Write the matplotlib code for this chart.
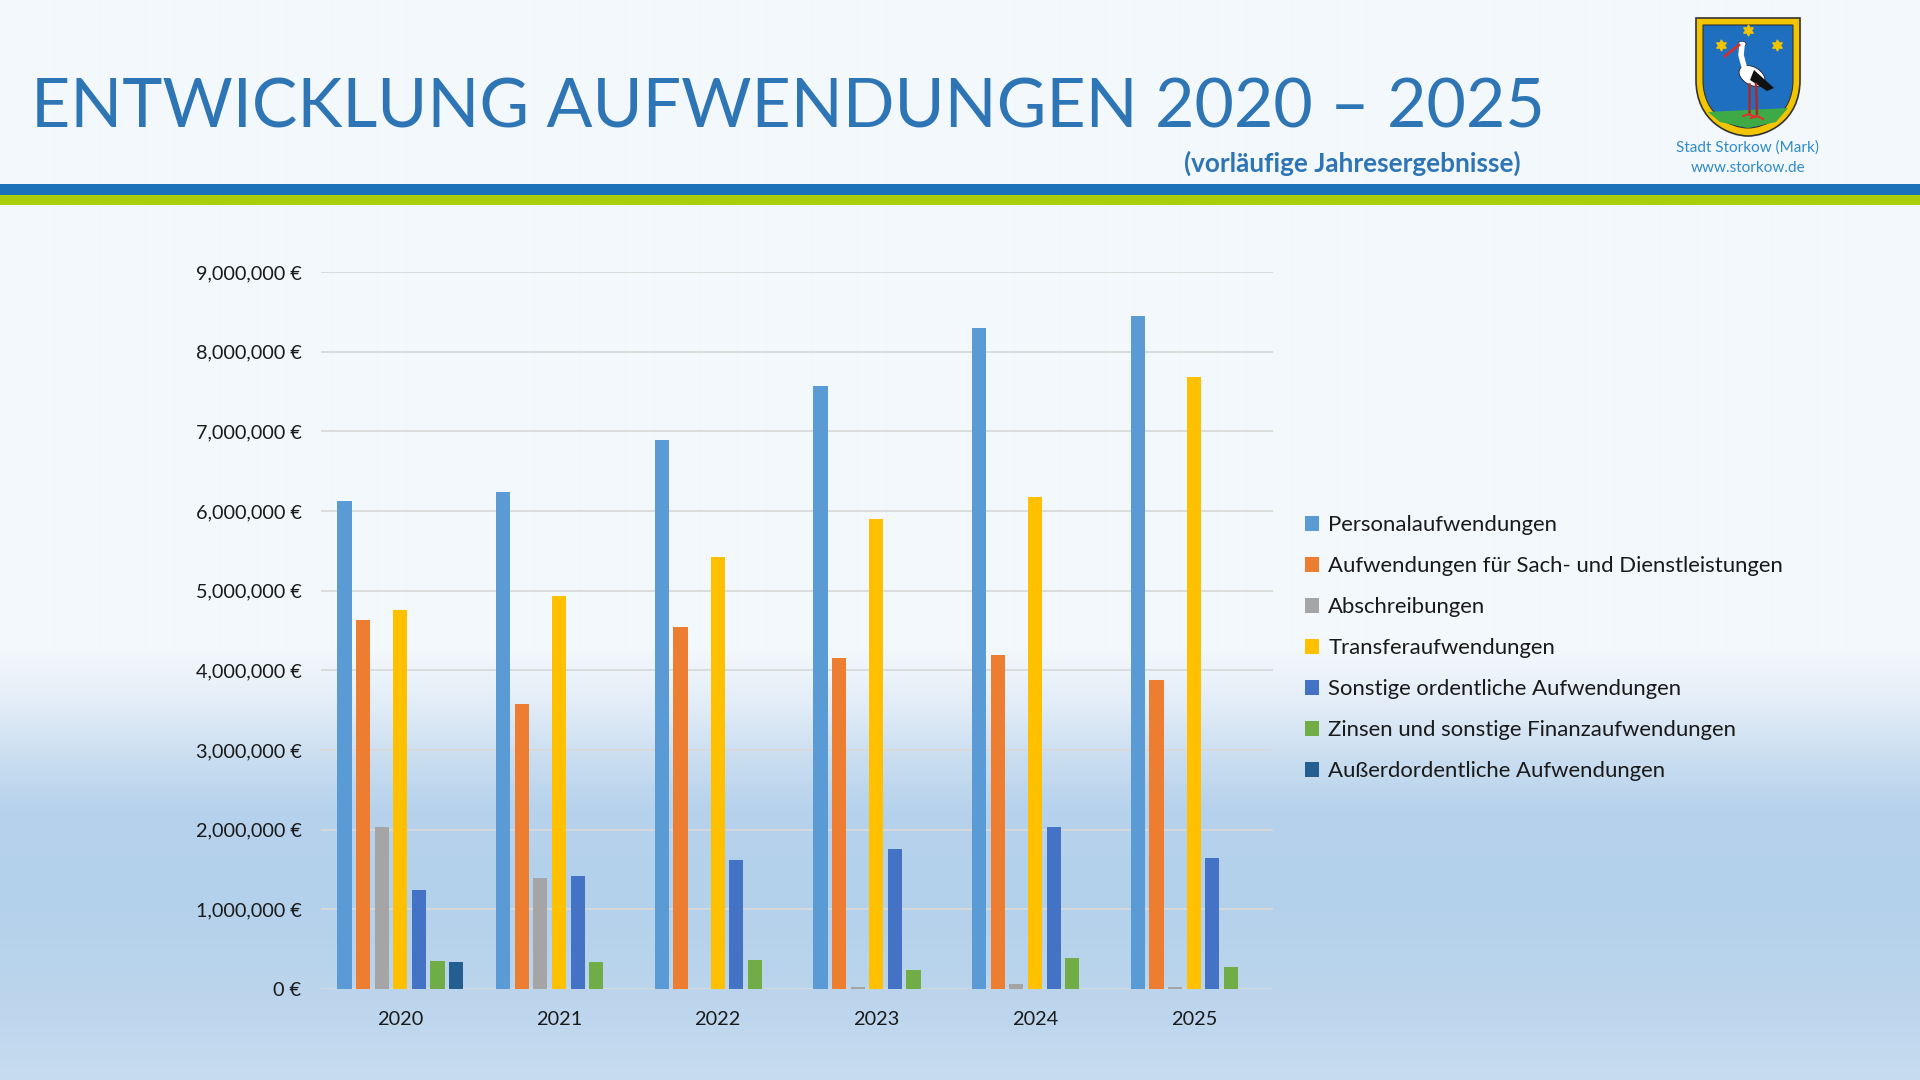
import numpy as np
import matplotlib
matplotlib.use("Agg")
import matplotlib.pyplot as plt
from matplotlib.colors import to_rgb
from matplotlib.patches import Rectangle, PathPatch, Ellipse, Polygon
from matplotlib.path import Path
from matplotlib.ticker import FuncFormatter, MultipleLocator

# ---------------- data ----------------
years = ["2020", "2021", "2022", "2023", "2024", "2025"]
series_names = [
    "Personalaufwendungen",
    "Aufwendungen für Sach- und Dienstleistungen",
    "Abschreibungen",
    "Transferaufwendungen",
    "Sonstige ordentliche Aufwendungen",
    "Zinsen und sonstige Finanzaufwendungen",
    "Außerdordentliche Aufwendungen",
]
personal   = [6125000, 6241000, 6885000, 7566000, 8295000, 8447000]
sach       = [4637000, 3573000, 4539000, 4150000, 4193000, 3877000]
abschr     = [2030000, 1392000, 0, 30000, 67000, 30000]
transfer   = [4752000, 4934000, 5420000, 5894000, 6174000, 7681000]
sonstige   = [1240000, 1422000, 1622000, 1756000, 2030000, 1641000]
zinsen     = [346000, 340000, 365000, 243000, 389000, 280000]
ausserord  = [334000, 0, 0, 0, 0, 0]
series_values = [personal, sach, abschr, transfer, sonstige, zinsen, ausserord]
colors = ["#5B9BD5", "#ED7D31", "#A5A5A5", "#FFC000", "#4472C4", "#70AD47", "#255E91"]

title = "ENTWICKLUNG AUFWENDUNGEN 2020 – 2025"
subtitle = "(vorläufige Jahresergebnisse)"
logo_line1 = "Stadt Storkow (Mark)"
logo_line2 = "www.storkow.de"

FONT = "Lato"
plt.rcParams["font.family"] = [FONT, "DejaVu Sans"]

W, H = 1920, 1080
fig = plt.figure(figsize=(19.2, 10.8), dpi=100)

# ---------------- background ----------------
bg = fig.add_axes([0, 0, 1, 1], zorder=-10)
bg.set_xlim(0, W)
bg.set_ylim(H, 0)
bg.axis("off")
stops = [(0, "#F4F8FC"), (650, "#F3F8FC"), (700, "#E4EEF8"), (760, "#C9DDF0"),
         (810, "#B6D2EC"), (900, "#B4D1EB"), (1000, "#BCD5ED"), (1080, "#C7DCF0")]
ys = np.arange(H)
sy = [s[0] for s in stops]
cols = np.array([to_rgb(s[1]) for s in stops])
grad = np.stack([np.interp(ys, sy, cols[:, k]) for k in range(3)], axis=1)
img = np.repeat(grad[:, None, :], 4, axis=1)
bg.imshow(img, extent=[0, W, H, 0], aspect="auto", interpolation="bilinear")

# stripes
bg.add_patch(Rectangle((0, 184), W, 10.5, color="#1B72B8", lw=0))
bg.add_patch(Rectangle((0, 194.5), W, 10.5, color="#AACF0A", lw=0))

# title
t = bg.text(31, 128, title, fontsize=50, color="#2E75B6", va="baseline", ha="left",
            family=FONT)
st = bg.text(1521, 172, subtitle, fontsize=17, color="#2E75B6", va="baseline",
             ha="right", fontweight="bold", family=FONT)

# logo (coat of arms, simplified)
cx = 1748
def shield_path(x0, x1, ytop, ymid, ybot):
    c = (x0 + x1) / 2
    verts = [(x0, ytop), (x1, ytop), (x1, ymid),
             (x1, ymid + (ybot - ymid) * 0.75), (c + (x1 - c) * 0.35, ybot), (c, ybot),
             (c - (c - x0) * 0.35, ybot), (x0, ymid + (ybot - ymid) * 0.75), (x0, ymid),
             (x0, ytop)]
    codes = [Path.MOVETO, Path.LINETO, Path.LINETO,
             Path.CURVE4, Path.CURVE4, Path.CURVE4,
             Path.CURVE4, Path.CURVE4, Path.CURVE4, Path.CLOSEPOLY]
    return Path(verts, codes)

bg.add_patch(PathPatch(shield_path(1696, 1800, 18, 80, 136), facecolor="#F2C500",
                       edgecolor="#333333", lw=1.2))
bg.add_patch(PathPatch(shield_path(1703, 1793, 25, 80, 128), facecolor="#1F6FC0",
                       edgecolor="#333333", lw=0.8))
# green ground
bg.add_patch(Polygon([(1708, 112), (1788, 108), (1776, 122), (1748, 128), (1720, 122)],
                     closed=True, facecolor="#3DAA45", edgecolor="none"))
# stork
bg.add_patch(Ellipse((1752, 76), 28, 18, angle=30, facecolor="white", edgecolor="#222222", lw=0.6))
bg.add_patch(Polygon([(1754, 70), (1774, 88), (1767, 91), (1750, 80)], closed=True,
                     facecolor="#111111"))
bg.plot([1745, 1741, 1742], [70, 55, 45], color="white", lw=4, solid_capstyle="round")
bg.add_patch(Ellipse((1742, 44), 8, 5.5, facecolor="white", edgecolor="#222222", lw=0.5))
bg.plot([1739, 1725], [45, 56], color="#D03030", lw=2)
bg.plot([1749, 1749], [84, 114], color="#B02828", lw=1.8)
bg.plot([1756, 1757], [84, 116], color="#B02828", lw=1.8)
bg.plot([1743, 1749, 1755], [116, 114, 117], color="#E03030", lw=1.5)
bg.plot([1751, 1757, 1763], [118, 116, 119], color="#E03030", lw=1.5)
for (sx, sy_) in [(1748, 30), (1721, 45), (1777, 45)]:
    bg.plot(sx, sy_, marker=(6, 1, 0), markersize=8, color="#F2C500")
bg.text(cx, 152, logo_line1, fontsize=11, color="#2E8BCB", ha="center", va="baseline",
        family=FONT)
bg.text(cx, 172, logo_line2, fontsize=11, color="#2E8BCB", ha="center", va="baseline",
        family=FONT)

# ---------------- chart ----------------
ax = fig.add_axes([321 / W, 91 / H, 952 / W, 717 / H])
ax.set_facecolor("none")
x = np.arange(len(years))
slot = 0.1175
bw = 0.09
n = len(series_values)
handles = []
for i, (name, vals, c) in enumerate(zip(series_names, series_values, colors)):
    b = ax.bar(x + (i - (n - 1) / 2) * slot, vals, width=bw, color=c, label=name,
               zorder=3)
    handles.append(b)

ax.set_xlim(-0.5, len(years) - 0.5)
ax.set_ylim(0, 9000000)
ax.yaxis.set_major_locator(MultipleLocator(1000000))
ax.yaxis.set_major_formatter(FuncFormatter(lambda v, p: f"{int(round(v)):,} €"))
ax.set_xticks(x)
ax.set_xticklabels(years)
ax.grid(axis="y", color="#D9D9D9", lw=1.3, zorder=0)
ax.set_axisbelow(True)
for s in ax.spines.values():
    s.set_visible(False)
ax.tick_params(axis="y", length=0, pad=14, labelsize=14.3, labelcolor="#1A1A1A")
ax.tick_params(axis="x", length=0, pad=16, labelsize=14.3, labelcolor="#1A1A1A")

leg = fig.legend(handles=handles, labels=series_names, loc="center left",
                 bbox_to_anchor=(1305 / W, 1 - 648 / H), frameon=False,
                 fontsize=15.9, handlelength=0.65, handleheight=0.65,
                 handletextpad=0.4, labelspacing=0.95, borderpad=0, borderaxespad=0)
for txt in leg.get_texts():
    txt.set_color("#1A1A1A")

# fit title / subtitle widths
fig.canvas.draw()
r = fig.canvas.get_renderer()
tw = t.get_window_extent(r).width
t.set_fontsize(50 * (1545 - 31) / tw)
sw = st.get_window_extent(r).width
st.set_fontsize(17 * (1521 - 1184) / sw)

fig.savefig("out.png", dpi=100)
